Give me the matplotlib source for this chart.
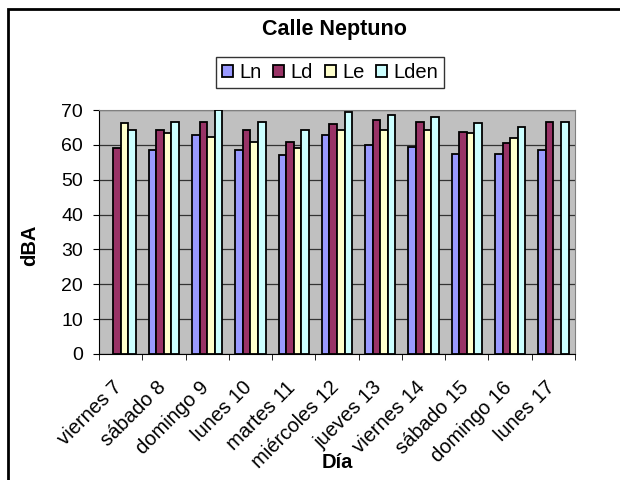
import numpy as np
import matplotlib.pyplot as plt
from matplotlib.patches import Rectangle
from matplotlib.transforms import ScaledTranslation

plt.rcParams['font.family'] = ['Liberation Sans', 'DejaVu Sans']

dias = ['viernes 7', 'sábado 8', 'domingo 9', 'lunes 10', 'martes 11', 'miércoles 12',
        'jueves 13', 'viernes 14', 'sábado 15', 'domingo 16', 'lunes 17']
ln = [np.nan, 58.5, 62.8, 58.5, 57.1, 62.8, 59.9, 59.5, 57.5, 57.5, 58.5]
ld = [59.0, 64.3, 66.7, 64.3, 60.9, 65.9, 67.1, 66.7, 63.8, 60.4, 66.7]
le = [66.2, 63.3, 62.3, 60.9, 59.0, 64.3, 64.3, 64.3, 63.3, 61.9, np.nan]
lden = [64.3, 66.7, 70.0, 66.7, 64.3, 69.5, 68.6, 68.1, 66.2, 65.2, 66.7]

series = [('Ln', ln, '#9999FF'), ('Ld', ld, '#993366'),
          ('Le', le, '#FFFFCC'), ('Lden', lden, '#CCFFFF')]

fig = plt.figure(figsize=(6.2, 4.8), dpi=100)
ax = fig.add_axes([99/620, 1-354/480, 476/620, 244/480])
ax.set_facecolor('#C0C0C0')

x = np.arange(len(dias))
w = 0.175
for i, (name, vals, col) in enumerate(series):
    ax.bar(x + (i - 1.5) * w, vals, width=w, color=col, edgecolor='black',
           linewidth=1.3, label=name, zorder=3)

ax.set_xlim(-0.5, len(dias) - 0.5)
ax.set_ylim(0, 70)
ax.set_yticks(np.arange(0, 71, 10))
ax.yaxis.grid(True, color='#333333', linewidth=0.9, zorder=0)
ax.set_axisbelow(True)
ax.set_xticks(x)
ax.set_xticklabels(dias, rotation=45, ha='right', va='top', rotation_mode='anchor')
ax.set_xticks(np.arange(-0.5, len(dias), 1), minor=True)
ax.tick_params(axis='x', which='major', length=0, labelsize=14.5, pad=17)
ax.tick_params(axis='x', which='minor', length=4.5, color='black')
ax.tick_params(axis='y', labelsize=14, length=4.5, pad=7)
shift = ScaledTranslation(-8/100, 0, fig.dpi_scale_trans)
for lab in ax.get_xticklabels():
    lab.set_transform(lab.get_transform() + shift)
for s in ['top', 'right']:
    ax.spines[s].set_color('#808080')
ax.spines['left'].set_color('black')
ax.spines['bottom'].set_color('black')

fig.text(30/620, 1-245/480, 'dBA', ha='center', va='center', rotation=90,
         fontweight='bold', fontsize=14.5)
fig.text(337/620, 1-463/480, 'Día', ha='center', va='center', fontweight='bold', fontsize=14.5)
fig.text(334/620, 1-30/480, 'Calle Neptuno', ha='center', va='center', fontweight='bold', fontsize=15.5)

fig.legend(loc='center', bbox_to_anchor=(330/620, 1-72.5/480), ncol=4, fontsize=14.5,
           frameon=True, fancybox=False, edgecolor='black', handlelength=0.55,
           handleheight=0.55, handletextpad=0.3, columnspacing=0.6, borderpad=0.3,
           borderaxespad=0)

fig.patches.append(Rectangle((8/620, -0.1), 1.2, 1.1 - 9/480, transform=fig.transFigure,
                             fill=False, edgecolor='black', linewidth=2))

fig.savefig('out.png', dpi=100)
